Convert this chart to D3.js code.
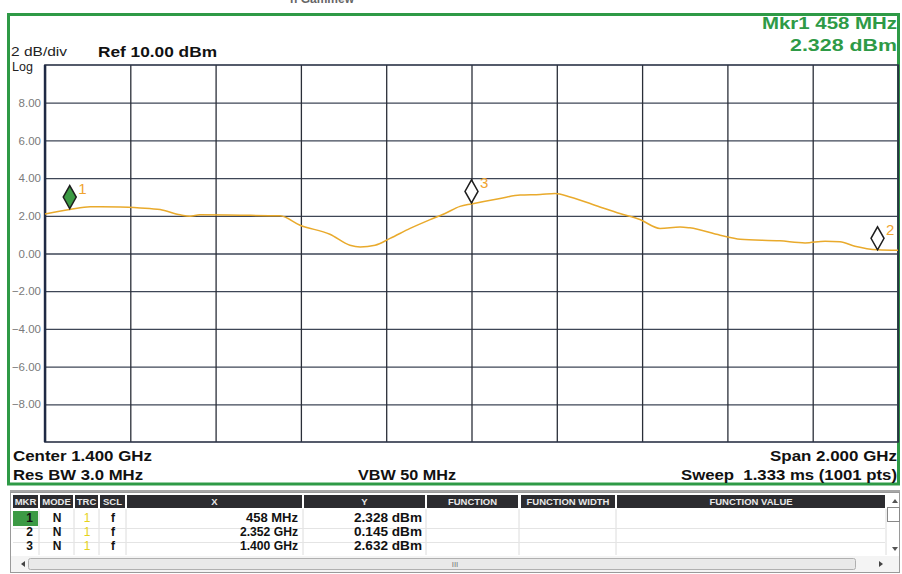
<!DOCTYPE html>
<html><head><meta charset="utf-8">
<script src="https://cdn.jsdelivr.net/npm/d3@7"></script>
<style>
html,body{margin:0;padding:0;background:#fff;}
svg{display:block;font-family:"Liberation Sans",Arial,sans-serif;}
</style></head>
<body>
<svg id="c" width="902" height="574"></svg>
<script>
// ---------- data ----------
const traceFreqGHz = [0.400,0.458,0.506,0.576,0.623,0.670,0.717,0.740,0.763,0.857,0.951,0.998,1.068,1.115,1.139,1.174,1.209,1.256,1.303,1.338,1.373,1.400,1.467,1.514,1.561,1.596,1.631,1.701,1.748,1.795,1.842,1.889,1.912,1.983,2.030,2.123,2.182,2.229,2.264,2.299,2.352,2.400];
const traceDbm     = [2.10, 2.33, 2.48, 2.47, 2.42, 2.33, 2.05, 1.98, 2.05, 2.03, 2.00, 1.50, 1.02, 0.44, 0.35, 0.44, 0.80, 1.33, 1.80, 2.12, 2.50, 2.63, 2.92, 3.10, 3.13, 3.18, 3.00, 2.47, 2.12, 1.80, 1.33, 1.41, 1.36, 0.97, 0.76, 0.67, 0.56, 0.65, 0.62, 0.39, 0.20, 0.17];
const markerIds    = ["1","2","3"];
const markerFreq   = [0.458, 2.352, 1.400];
const markerDbm    = [2.328, 0.145, 2.632];
const markerModes  = ["N","N","N"];
const markerScl    = ["f","f","f"];
const yTickVals    = [8,6,4,2,0,-2,-4,-6,-8];
const xGridVals    = [0.4,0.6,0.8,1.0,1.2,1.4,1.6,1.8,2.0,2.2,2.4];
const tableHeaders = ["MKR","MODE","TRC","SCL","X","Y","FUNCTION","FUNCTION WIDTH","FUNCTION VALUE"];

// ---------- layout ----------
const plot = {l:45, r:898, t:65, b:442};
const colEdges = [[13,38],[40,73],[75,98],[100,125],[127,302],[304,425],[427,518],[521,615],[617,885]];
const rowBase = [522,536,550];

const svg = d3.select("#c");
const x = d3.scaleLinear().domain([0.4,2.4]).range([plot.l, plot.r]);
const y = d3.scaleLinear().domain([-10,10]).range([plot.b, plot.t]);

// helper for stretched text (scan is horizontally wider)
function txt(s, xx, yy, size, opts={}) {
  const t = svg.append("text").attr("x",xx).attr("y",yy).attr("font-size",size)
    .attr("font-weight",opts.weight||"normal").attr("fill",opts.fill||"#111")
    .attr("text-anchor",opts.anchor||"start").text(s);
  if (opts.len) t.attr("textLength",opts.len).attr("lengthAdjust","spacingAndGlyphs");
  return t;
}

// top cut-off text
txt("n Gammew", 290, 3, 12, {weight:"bold", fill:"#666"});

// green frame
svg.append("rect").attr("x",8.5).attr("y",14.5).attr("width",890).attr("height",469.5)
  .attr("fill","none").attr("stroke","#2e9a46").attr("stroke-width",3);

// grid horizontal
const gy = svg.append("g").attr("transform",`translate(${plot.l},0)`)
  .call(d3.axisLeft(y).tickValues(yTickVals).tickSize(-(plot.r-plot.l)).tickFormat(d=>d3.format(".2f")(d)));
gy.select(".domain").remove();
gy.selectAll(".tick line").attr("stroke","#3e4656").attr("stroke-width",1.3);
gy.selectAll(".tick text").attr("x",-4).attr("fill","#7a7a7a").attr("font-size",11.5)
  .attr("font-family","'Liberation Sans',Arial,sans-serif");

// grid vertical
const gx = svg.append("g").attr("transform",`translate(0,${plot.b})`)
  .call(d3.axisBottom(x).tickValues(xGridVals).tickSize(-(plot.b-plot.t)).tickFormat(""));
gx.select(".domain").remove();
gx.selectAll(".tick line").attr("stroke","#2a2e38").attr("stroke-width",1.3);

// plot border
svg.append("rect").attr("x",plot.l).attr("y",plot.t).attr("width",plot.r-plot.l).attr("height",plot.b-plot.t)
  .attr("fill","none").attr("stroke","#2b3346").attr("stroke-width",1.6);
svg.append("line").attr("x1",plot.l).attr("x2",plot.l).attr("y1",plot.t).attr("y2",plot.b)
  .attr("stroke","#1f2a44").attr("stroke-width",2.4);

// trace
const line = d3.line().x((d,i)=>x(traceFreqGHz[i])).y(d=>y(d)).curve(d3.curveMonotoneX);
svg.append("path").datum(traceDbm).attr("d",line).attr("fill","none")
  .attr("stroke","#e9aa2c").attr("stroke-width",1.5);

// markers
const mk = svg.append("g");
markerIds.forEach((id,i)=>{
  const mx = x(markerFreq[i]), my = y(markerDbm[i]) - 1;
  mk.append("path").attr("d",`M${mx},${my} L${mx+6.5},${my-11.5} L${mx},${my-23} L${mx-6.5},${my-11.5} Z`)
    .attr("fill", i===0 ? "#3c9a44" : "#ffffff").attr("stroke","#1e1e1e").attr("stroke-width",1.5);
  mk.append("text").attr("x",mx+8.5).attr("y",my-15).attr("font-size",15)
    .attr("fill","#f0a430").text(id);
});

// header texts
txt("2 dB/div", 11, 56, 12.5, {fill:"#222", len:56});
txt("Log", 12, 71, 12.5, {fill:"#222"});
txt("Ref 10.00 dBm", 98, 57, 15.5, {weight:"bold", len:119});
txt(`Mkr1 ${Math.round(markerFreq[0]*1000)} MHz`, 897, 29, 16.5, {weight:"bold", fill:"#2e9a46", anchor:"end"})
  .attr("textLength",135).attr("lengthAdjust","spacingAndGlyphs");
txt(`${markerDbm[0].toFixed(3)} dBm`, 897, 51, 16.5, {weight:"bold", fill:"#2e9a46", anchor:"end"})
  .attr("textLength",107).attr("lengthAdjust","spacingAndGlyphs");

// footer texts
txt("Center 1.400 GHz", 13, 461, 15.5, {weight:"bold", len:139});
txt("Res BW 3.0 MHz", 13, 480, 15.5, {weight:"bold", len:130});
txt("VBW 50 MHz", 358, 480, 15.5, {weight:"bold", len:98});
txt("Span 2.000 GHz", 897, 461, 15.5, {weight:"bold", anchor:"end", len:127});
txt("Sweep  1.333 ms (1001 pts)", 897, 480, 15.5, {weight:"bold", anchor:"end", len:216}).attr("xml:space","preserve");

// ---------- table ----------
const tb = svg.append("g");
tb.append("rect").attr("x",10.5).attr("y",492.5).attr("width",889).attr("height",80)
  .attr("fill","#fff").attr("stroke","#9a9a9a");
tb.append("line").attr("x1",10).attr("x2",900).attr("y1",491).attr("y2",491).attr("stroke","#8a8a8a").attr("stroke-width",1.5);
tableHeaders.forEach((h,i)=>{
  const [a,b] = colEdges[i];
  tb.append("rect").attr("x",a).attr("y",495).attr("width",b-a).attr("height",13).attr("fill","#2c2c30");
  tb.append("text").attr("x",(a+b)/2).attr("y",505).attr("text-anchor","middle").attr("font-size",9.5)
    .attr("font-weight","bold").attr("fill","#e8e8e8").text(h);
  tb.append("line").attr("x1",b+1).attr("x2",b+1).attr("y1",509).attr("y2",555).attr("stroke","#dcdcdc");
});
[528.5,542.5].forEach(yy=>tb.append("line").attr("x1",13).attr("x2",885).attr("y1",yy).attr("y2",yy).attr("stroke","#e4e4e4"));
tb.append("rect").attr("x",13).attr("y",511).attr("width",25).attr("height",15).attr("fill","#3c9a44");
const fmtX = f => f < 1 ? `${Math.round(f*1000)} MHz` : `${f.toFixed(3)} GHz`;
markerIds.forEach((id,i)=>{
  const yy = rowBase[i];
  const t = (s,xx,anchor,fill,weight)=>tb.append("text").attr("x",xx).attr("y",yy).attr("text-anchor",anchor)
    .attr("font-size",12).attr("font-weight",weight||"bold").attr("fill",fill||"#111").text(s);
  t(id, 33, "end");
  t(markerModes[i], 57, "middle");
  t("1", 87, "middle", "#e6d21a", "normal");
  t(markerScl[i], 113, "middle");
  t(fmtX(markerFreq[i]), 298, "end").attr("textLength",fmtX(markerFreq[i]).length>7?58:52).attr("lengthAdjust","spacingAndGlyphs");
  t(`${markerDbm[i].toFixed(3)} dBm`, 422, "end").attr("textLength",68).attr("lengthAdjust","spacingAndGlyphs");
});
// vertical scrollbar
tb.append("path").attr("d","M892,503 l3,-4 l3,4 Z").attr("fill","#555");
tb.append("rect").attr("x",887.5).attr("y",507.5).attr("width",12).attr("height",14).attr("fill","#fff").attr("stroke","#888");
tb.append("path").attr("d","M892,547 l3,4 l3,-4 Z").attr("fill","#555");
// horizontal scrollbar
tb.append("rect").attr("x",11).attr("y",556).attr("width",888).attr("height",16).attr("fill","#f4f4f4");
tb.append("rect").attr("x",28.5).attr("y",558.5).attr("width",827).attr("height",11).attr("rx",2)
  .attr("fill","#e9e9e9").attr("stroke","#b0b0b0");
tb.append("text").attr("x",455).attr("y",567).attr("text-anchor","middle").attr("font-size",8).attr("fill","#777").text("III");
tb.append("path").attr("d","M21,564 l4,-3 l0,6 Z").attr("fill","#444");
tb.append("path").attr("d","M879,561 l4,3 l-4,3 Z").attr("fill","#444");
</script>
</body></html>
